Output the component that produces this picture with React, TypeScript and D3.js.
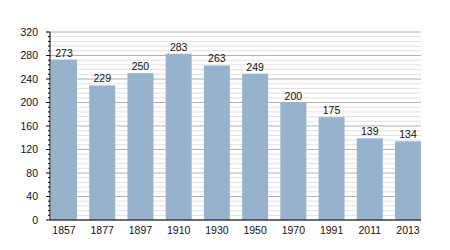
import React from "react";
import * as d3 from "d3";

const years = ["1857", "1877", "1897", "1910", "1930", "1950", "1970", "1991", "2011", "2013"];
const population = [273, 229, 250, 283, 263, 249, 200, 175, 139, 134];
const majorTicks = [0, 40, 80, 120, 160, 200, 240, 280, 320];

export default function App() {
  const W = 450, H = 250;
  const left = 50, right = 421, top = 32, bottom = 220;
  const x = d3.scaleBand().domain(years).range([left + 1, right]).paddingInner(0.32).paddingOuter(0);
  const y = d3.scaleLinear().domain([0, 320]).range([bottom, top]);
  const minor = d3.range(0, 321, 8).filter((v) => v % 40 !== 0);
  const font = "'Liberation Sans', Arial, sans-serif";
  return (
    <svg width={W} height={H} style={{ position: "absolute", left: 0, top: 0 }}>
      <rect width={W} height={H} fill="#fff" />
      {minor.map((v) => (
        <line key={"m" + v} x1={left} x2={right} y1={y(v)} y2={y(v)} stroke="#e0e0e0" strokeWidth={1} />
      ))}
      {majorTicks.map((v) => (
        <line key={"M" + v} x1={left} x2={right} y1={y(v)} y2={y(v)} stroke="#b0b0b0" strokeWidth={1} />
      ))}
      {years.map((yr, i) => (
        <rect key={yr} x={x(yr)} y={y(population[i])} width={x.bandwidth()} height={bottom - y(population[i])} fill="#97b2cd" />
      ))}
      {years.map((yr, i) => (
        <text key={"l" + yr} x={(x(yr) as number) + x.bandwidth() / 2} y={y(population[i]) - 3} textAnchor="middle" fontFamily={font} fontSize={10.5} fill="#111">
          {population[i]}
        </text>
      ))}
      {minor.map((v) => (
        <line key={"mt" + v} x1={left - 2} x2={left} y1={y(v)} y2={y(v)} stroke="#000" />
      ))}
      {majorTicks.map((v) => (
        <g key={"t" + v}>
          <line x1={left - 4} x2={left} y1={y(v)} y2={y(v)} stroke="#000" />
          <text x={38} y={y(v)} dy="0.35em" textAnchor="end" fontFamily={font} fontSize={10.5} fill="#111">{v}</text>
        </g>
      ))}
      <line x1={left} x2={left} y1={top} y2={bottom} stroke="#000" />
      <line x1={left} x2={right} y1={bottom} y2={bottom} stroke="#000" strokeWidth={1.2} />
      {years.map((yr) => (
        <text key={"x" + yr} x={(x(yr) as number) + x.bandwidth() / 2} y={bottom + 14} textAnchor="middle" fontFamily={font} fontSize={10.5} fill="#111">
          {yr}
        </text>
      ))}
    </svg>
  );
}
